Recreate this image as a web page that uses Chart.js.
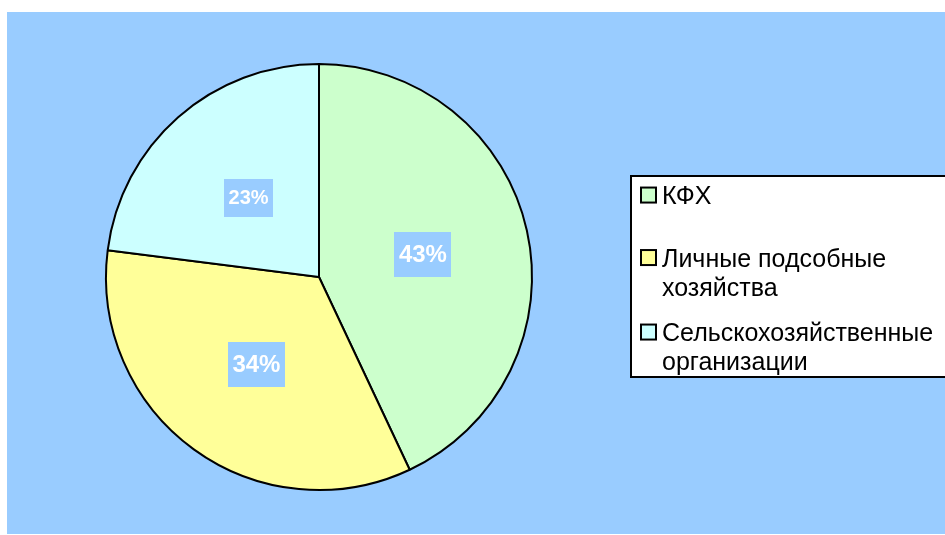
<!DOCTYPE html>
<html>
<head>
<meta charset="utf-8">
<script src="https://cdn.jsdelivr.net/npm/chart.js@4"></script>
<style>
    html, body { margin: 0; padding: 0; background: #fff; overflow: hidden; }
    #wrap { position: absolute; left: 7px; top: 12px; width: 938px; height: 522px; background: #99CCFF; }
</style>
</head>
<body>
<div id="wrap"><canvas id="chartPie" width="938" height="522"></canvas></div>
<script>
const categories = ['КФХ', 'Личные подсобные хозяйства', 'Сельскохозяйственные организации'];
const shares = [43, 34, 23];
const colors = ['#CCFFCC', '#FFFF99', '#CCFFFF'];

const FONT = 'Arial, "Liberation Sans", sans-serif';

// percent labels in blue boxes on each slice
const sliceLabels = {
    id: 'sliceLabels',
    afterDatasetsDraw(chart, args, opts) {
        const ctx = chart.ctx;
        const meta = chart.getDatasetMeta(0);
        const total = shares.reduce((a, b) => a + b, 0);
        ctx.save();
        meta.data.forEach((arc, i) => {
            const p = arc.tooltipPosition();
            const size = opts.fontSizes[i];
            const txt = Math.round(shares[i] / total * 100) + '%';
            ctx.font = 'bold ' + size + 'px ' + FONT;
            const w = ctx.measureText(txt).width + 9;
            const h = Math.round(size * 1.88);
            ctx.fillStyle = '#99CCFF';
            ctx.fillRect(Math.round(p.x - w / 2), Math.round(p.y - h / 2 + 1), Math.round(w), h);
            ctx.fillStyle = '#FFFFFF';
            ctx.textAlign = 'center';
            ctx.textBaseline = 'alphabetic';
            ctx.fillText(txt, p.x, p.y + size * 0.716 / 2);
        });
        ctx.restore();
    }
};

// legend box on the right, drawn by hand so the lines wrap like the original
const boxLegend = {
    id: 'boxLegend',
    afterDraw(chart, args, opts) {
        const ctx = chart.ctx;
        ctx.save();
        ctx.fillStyle = '#FFFFFF';
        ctx.fillRect(opts.left, opts.top, chart.width - opts.left + 10, opts.bottom - opts.top);
        ctx.strokeStyle = '#000';
        ctx.lineWidth = 2;
        ctx.strokeRect(opts.left, opts.top, chart.width - opts.left + 10, opts.bottom - opts.top);

        ctx.font = opts.fontSize + 'px ' + FONT;
        ctx.textAlign = 'left';
        ctx.textBaseline = 'alphabetic';
        categories.forEach((name, i) => {
            // word wrap
            const words = name.split(' ');
            const lines = [];
            let cur = '';
            words.forEach(wd => {
                const test = cur ? cur + ' ' + wd : wd;
                if (cur && ctx.measureText(test).width > opts.maxWidth) {
                    lines.push(cur);
                    cur = wd;
                } else {
                    cur = test;
                }
            });
            lines.push(cur);

            const base = opts.itemBaselines[i];
            const mid = base - opts.fontSize * 0.716 / 2;
            const s = opts.markerSize;
            ctx.fillStyle = colors[i];
            ctx.fillRect(opts.markerX, mid - s / 2, s, s);
            ctx.strokeStyle = '#000';
            ctx.lineWidth = 2;
            ctx.strokeRect(opts.markerX, mid - s / 2, s, s);

            ctx.fillStyle = '#000';
            lines.forEach((ln, k) => {
                ctx.fillText(ln, opts.textX, base + k * opts.lineHeight);
            });
        });
        ctx.restore();
    }
};

new Chart(document.getElementById('chartPie'), {
    type: 'pie',
    data: {
        labels: categories,
        datasets: [{
            data: shares,
            backgroundColor: colors,
            borderColor: '#000000',
            borderWidth: 2
        }]
    },
    options: {
        responsive: false,
        animation: false,
        layout: {
            padding: { left: 98, top: 51, right: 412, bottom: 43 }
        },
        plugins: {
            legend: { display: false },
            tooltip: { enabled: false },
            sliceLabels: { fontSizes: [24, 24, 20] },
            boxLegend: {
                left: 624, top: 164, bottom: 365,
                fontSize: 25, lineHeight: 29, maxWidth: 280,
                markerX: 634, markerSize: 15, textX: 655,
                itemBaselines: [192, 254.5, 329]
            }
        }
    },
    plugins: [sliceLabels, boxLegend]
});
</script>
</body>
</html>
